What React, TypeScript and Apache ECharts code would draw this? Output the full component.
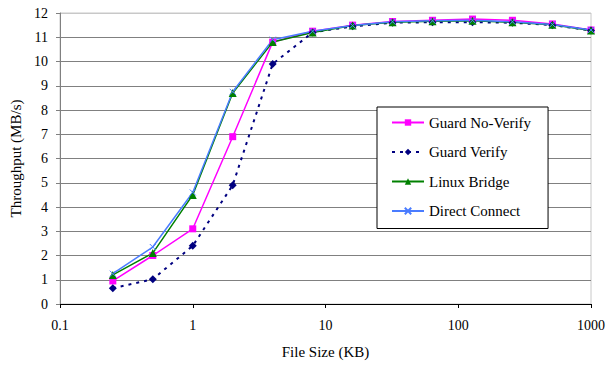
import React, { useEffect, useRef } from "react";
import * as echarts from "echarts";

const fileSizes = [0.25, 0.5, 1, 2, 4, 8, 16, 32, 64, 128, 256, 512, 1000];
const guardNoVerify = [0.95, 2.0, 3.1, 6.9, 10.8, 11.25, 11.5, 11.65, 11.7, 11.75, 11.7, 11.55, 11.3];
const guardVerify = [0.65, 1.02, 2.4, 4.9, 9.9, 11.2, 11.45, 11.6, 11.62, 11.62, 11.6, 11.5, 11.28];
const linuxBridge = [1.2, 2.1, 4.5, 8.7, 10.8, 11.2, 11.48, 11.62, 11.66, 11.68, 11.62, 11.52, 11.28];
const directConnect = [1.25, 2.35, 4.6, 8.75, 10.9, 11.25, 11.48, 11.64, 11.68, 11.7, 11.64, 11.53, 11.3];
const xTickLabels: Record<string, string> = { "-1": "0.1", "0": "1", "1": "10", "2": "100", "3": "1000" };

const FONT = "Liberation Serif";

function pairs(ys: number[]) {
  return fileSizes.map((x, i) => [x, ys[i]]);
}

export default function App() {
  const ref = useRef<HTMLDivElement>(null);
  useEffect(() => {
    if (!ref.current) return;
    const chart = echarts.init(ref.current, undefined, { renderer: "svg" });
    const gridColors: string[] = [];
    for (let i = 0; i < 12; i++) gridColors.push("#808080");
    gridColors.push("#c8c8c8");
    const blue = "#4a7cff";
    chart.setOption({
      animation: false,
      backgroundColor: "#fff",
      textStyle: { fontFamily: FONT, color: "#000", fontSize: 14 },
      grid: {
        left: 60,
        right: 16,
        top: 13,
        bottom: 62,
        show: true,
        borderColor: "#c8c8c8",
        borderWidth: 1,
      },
      xAxis: {
        type: "log",
        logBase: 10,
        min: 0.1,
        max: 1000,
        name: "File Size (KB)",
        nameLocation: "middle",
        nameGap: 40,
        nameTextStyle: { fontFamily: FONT, fontSize: 15, color: "#000" },
        axisLine: { show: true, lineStyle: { color: "#000", width: 1 } },
        axisTick: { show: true, length: 4, lineStyle: { color: "#000" } },
        minorTick: { show: false },
        splitLine: { show: false },
        axisLabel: {
          fontFamily: FONT,
          fontSize: 14,
          color: "#000",
          margin: 14,
          formatter: (v: number) => {
            const k = String(Math.round(Math.log10(v)));
            return xTickLabels[k] ?? String(v);
          },
        },
      },
      yAxis: {
        type: "value",
        min: 0,
        max: 12,
        interval: 1,
        name: "Throughput (MB/s)",
        nameLocation: "middle",
        nameGap: 34,
        nameTextStyle: { fontFamily: FONT, fontSize: 15, color: "#000" },
        axisLine: { show: true, lineStyle: { color: "#808080", width: 1 } },
        axisTick: { show: true, length: 4, lineStyle: { color: "#808080" } },
        splitLine: { show: true, lineStyle: { color: gridColors, width: 1 } },
        axisLabel: { fontFamily: FONT, fontSize: 14, color: "#000", margin: 12 },
      },
      legend: {
        orient: "vertical",
        left: 377,
        top: 107,
        padding: [8, 17, 10, 14],
        itemWidth: 32,
        itemHeight: 8,
        itemGap: 14.5,
        backgroundColor: "#fff",
        borderColor: "#000",
        borderWidth: 1,
        textStyle: { fontFamily: FONT, fontSize: 15, color: "#000" },
        data: ["Guard No-Verify", "Guard Verify", "Linux Bridge", "Direct Connect"],
      },
      series: [
        {
          name: "Guard No-Verify",
          type: "line",
          data: pairs(guardNoVerify),
          symbol: "rect",
          symbolSize: 7,
          showAllSymbol: true,
          lineStyle: { color: "#ff00ff", width: 1.5 },
          itemStyle: { color: "#ff00ff" },
        },
        {
          name: "Guard Verify",
          type: "line",
          data: pairs(guardVerify),
          symbol: "diamond",
          symbolSize: 8,
          showAllSymbol: true,
          lineStyle: { color: "#000080", width: 2, type: [3, 5] },
          itemStyle: { color: "#000080" },
        },
        {
          name: "Linux Bridge",
          type: "line",
          data: pairs(linuxBridge),
          symbol: "triangle",
          symbolSize: 8,
          showAllSymbol: true,
          lineStyle: { color: "#008000", width: 1.5 },
          itemStyle: { color: "#008000" },
        },
        {
          name: "Direct Connect",
          type: "line",
          data: pairs(directConnect),
          symbol: "path://M0,0L10,10M10,0L0,10",
          symbolSize: 6,
          showAllSymbol: true,
          lineStyle: { color: blue, width: 1.5 },
          itemStyle: { color: "transparent", borderColor: blue, borderWidth: 1 },
        },
      ],
    });
    return () => chart.dispose();
  }, []);
  return (
    <div
      ref={ref}
      style={{ position: "absolute", left: 0, top: 0, width: 608, height: 366 }}
    />
  );
}
